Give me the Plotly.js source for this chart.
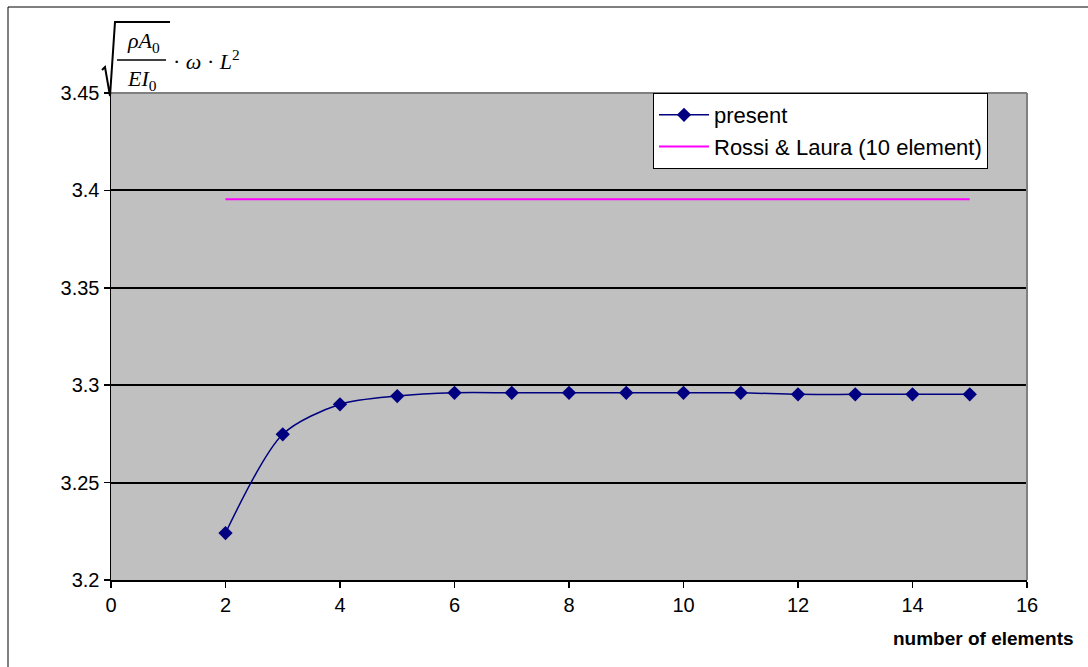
<!DOCTYPE html>
<html>
<head>
<meta charset="utf-8">
<script src="https://cdn.plot.ly/plotly-3.0.1.min.js"></script>
<style>
html,body{margin:0;padding:0;background:#fff;}
#chart{width:1088px;height:667px;}
</style>
</head>
<body>
<div id="chart"></div>
<script>
// Data
const elements = [2, 3, 4, 5, 6, 7, 8, 9, 10, 11, 12, 13, 14, 15];
const presentValues = [3.2241, 3.2748, 3.2902, 3.2944, 3.2961, 3.2961, 3.2961, 3.2961, 3.2961, 3.2961, 3.2953, 3.2953, 3.2953, 3.2953];
const rossiX = [2, 15];
const rossiY = [3.3955, 3.3955];
const xTickVals = [0, 2, 4, 6, 8, 10, 12, 14, 16];
const xTickText = ["0", "2", "4", "6", "8", "10", "12", "14", "16"];
const yTickVals = [3.2, 3.25, 3.3, 3.35, 3.4, 3.45];
const yTickText = ["3.2", "3.25", "3.3", "3.35", "3.4", "3.45"];
const seriesNames = ["present", "Rossi & Laura (10 element)"];

// Layout geometry (pixels)
const W = 1088, H = 667;
const L = 111, R = 1027, T = 93, B = 580;
const pw = R - L, ph = B - T;
const px = x => (x - L) / pw;
const py = y => (B - y) / ph;

const traces = [
  {
    x: elements, y: presentValues, name: seriesNames[0],
    type: 'scatter', mode: 'lines+markers',
    line: {color: '#000080', width: 1.5, shape: 'spline', smoothing: 0.8},
    marker: {symbol: 'diamond', size: 11, color: '#000080'},
    legendgroup: 'a'
  },
  {
    x: rossiX, y: rossiY, name: seriesNames[1],
    type: 'scatter', mode: 'lines',
    line: {color: '#ff00ff', width: 2},
    legendgroup: 'b'
  }
];

const serif = 'Liberation Serif, Times New Roman, serif';

const layout = {
  width: W, height: H,
  margin: {l: L, r: W - R, t: T, b: H - B, pad: 0},
  paper_bgcolor: '#ffffff',
  plot_bgcolor: '#c0c0c0',
  font: {family: 'Liberation Sans, Arial, sans-serif', size: 20, color: '#000'},
  showlegend: true,
  legend: {
    x: px(988), xanchor: 'right', y: 1, yanchor: 'top',
    bgcolor: '#ffffff', bordercolor: '#000000', borderwidth: 1,
    font: {family: 'Liberation Sans, Arial, sans-serif', size: 22, color: '#000'},
    tracegroupgap: 5, traceorder: 'normal', itemwidth: 50
  },
  xaxis: {
    range: [0, 16], tickvals: xTickVals, ticktext: xTickText,
    showgrid: false, zeroline: false,
    showline: true, linecolor: '#000', linewidth: 1.5,
    ticks: 'outside', ticklen: 6, tickcolor: '#000', tickwidth: 1.5,
    tickfont: {size: 20}
  },
  yaxis: {
    range: [3.2, 3.45], tickvals: yTickVals, ticktext: yTickText,
    showgrid: true, gridcolor: '#000', gridwidth: 2, zeroline: false,
    showline: true, linecolor: '#000', linewidth: 1.5,
    ticks: 'outside', ticklen: 6, tickcolor: '#000', tickwidth: 1.5,
    tickfont: {size: 20}
  },
  shapes: [
    // gray plot-area border (top and right)
    {type: 'line', xref: 'paper', yref: 'paper', x0: 0, x1: 1, y0: 1, y1: 1, line: {color: '#808080', width: 2}, layer: 'above'},
    {type: 'line', xref: 'paper', yref: 'paper', x0: 1, x1: 1, y0: 0, y1: 1, line: {color: '#808080', width: 2}, layer: 'above'},
    // outer chart frame (left and top)
    {type: 'line', xref: 'paper', yref: 'paper', x0: px(8), x1: px(1088), y0: py(7), y1: py(7), line: {color: '#000', width: 1}},
    {type: 'line', xref: 'paper', yref: 'paper', x0: px(8), x1: px(8), y0: py(7), y1: py(667), line: {color: '#000', width: 1}},
    // radical sign
    {type: 'path', xref: 'paper', yref: 'paper',
     path: 'M ' + px(102) + ' ' + py(70) + ' L ' + px(105) + ' ' + py(67) +
           ' L ' + px(110) + ' ' + py(96) + ' L ' + px(115) + ' ' + py(22) +
           ' L ' + px(170) + ' ' + py(22),
     line: {color: '#000', width: 2}},
    // fraction bar
    {type: 'line', xref: 'paper', yref: 'paper', x0: px(117), x1: px(166), y0: py(60), y1: py(60), line: {color: '#000', width: 1.5}}
  ],
  annotations: [
    {xref: 'paper', yref: 'paper', x: px(143), y: py(42), xanchor: 'center', yanchor: 'middle', showarrow: false,
     text: '<i>ρA</i><sub>0</sub>', font: {family: serif, size: 22, color: '#000'}},
    {xref: 'paper', yref: 'paper', x: px(142), y: py(80), xanchor: 'center', yanchor: 'middle', showarrow: false,
     text: '<i>EI</i><sub>0</sub>', font: {family: serif, size: 22, color: '#000'}},
    {xref: 'paper', yref: 'paper', x: px(171), y: py(60), xanchor: 'left', yanchor: 'middle', showarrow: false,
     text: '· <i>ω</i> · <i>L</i><sup>2</sup>', font: {family: serif, size: 22, color: '#000'}},
    {xref: 'paper', yref: 'paper', x: px(1076), y: py(638), xanchor: 'right', yanchor: 'middle', showarrow: false,
     text: '<b>number of elements</b>', font: {family: 'Liberation Sans, Arial, sans-serif', size: 19, color: '#000'}}
  ]
};

Plotly.newPlot('chart', traces, layout, {displayModeBar: false, staticPlot: true});
</script>
</body>
</html>
